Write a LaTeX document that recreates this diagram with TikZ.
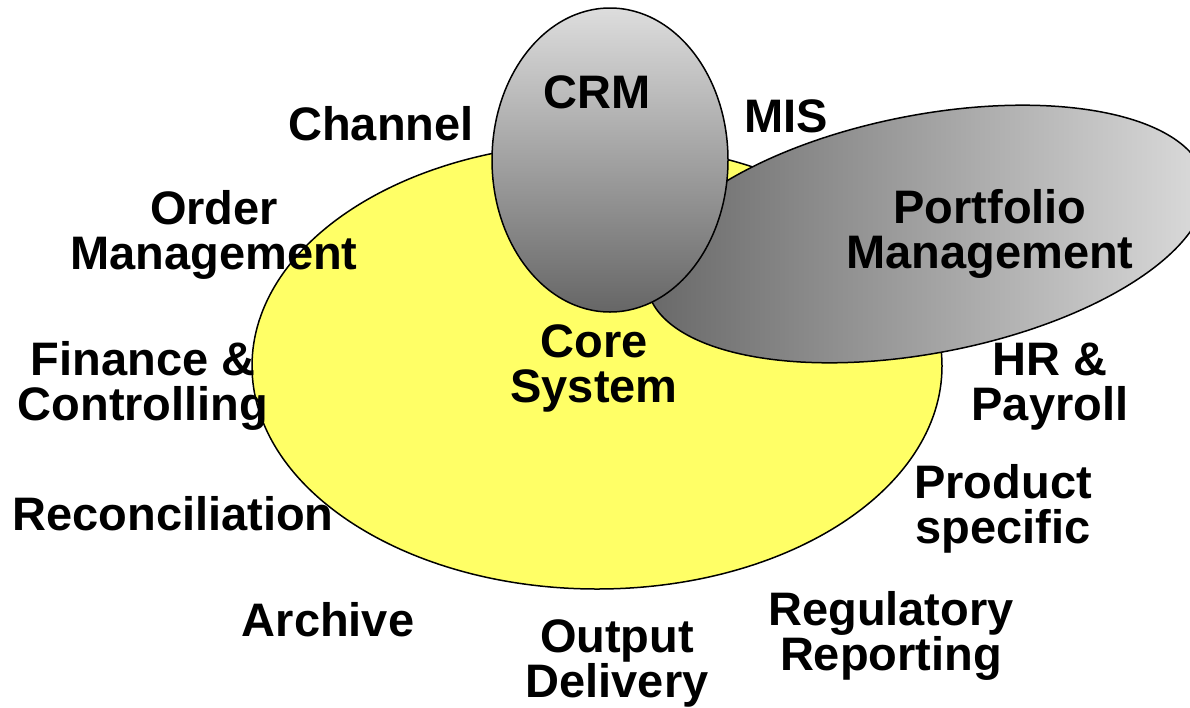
\documentclass[tikz,border=0pt]{standalone}
\usepackage{fontspec}
\setmainfont{Liberation Sans}
\usetikzlibrary{shapes.geometric}
\definecolor{coreyellow}{HTML}{FFFF66}
\definecolor{lightgrey}{HTML}{DDDDDD}
\definecolor{darkgrey}{HTML}{666666}
\tikzset{
  blob/.style={ellipse, draw=black, line width=1.5pt, inner sep=0pt},
  lbl/.style={font=\fontsize{47}{45}\selectfont\bfseries, align=center, inner sep=0pt}
}

\begin{document}
\begin{tikzpicture}[x=1pt, y=-1pt]
  \useasboundingbox (0,0) rectangle (1190,707);

  % Core system and the two overlapping blocks
  \node[blob, fill=coreyellow, minimum width=690pt, minimum height=446pt] (core) at (597,366) {};
  \node[blob, rotate=11, left color=darkgrey, right color=lightgrey,
        minimum width=568pt, minimum height=238pt] (portfolio) at (926,234) {};
  \node[blob, top color=lightgrey, bottom color=darkgrey,
        minimum width=236pt, minimum height=304pt] (crm) at (610,160) {};

  % Texts inside
  \node[lbl] (crmtext) at (597,92) {CRM};
  \node[lbl] (coretext) at (594,368) {Core\\System};
  \node[lbl] (pmtext) at (990,234) {Portfolio\\Management};

  % Surrounding systems
  \node[lbl] (channel) at (381,124) {Channel};
  \node[lbl] (mis) at (786,116) {MIS};
  \node[lbl] (order) at (214,235) {Order\\Management};
  \node[lbl] (finance) at (143,386) {Finance \&\\Controlling};
  \node[lbl] (hr) at (1050,387) {HR \&\\Payroll};
  \node[lbl] (product) at (1003,509) {Product\\specific};
  \node[lbl] (recon) at (173,514) {Reconciliation};
  \node[lbl] (archive) at (328,620) {Archive};
  \node[lbl] (output) at (617,663) {Output\\Delivery};
  \node[lbl] (regrep) at (891,636) {Regulatory\\Reporting};
\end{tikzpicture}
\end{document}
